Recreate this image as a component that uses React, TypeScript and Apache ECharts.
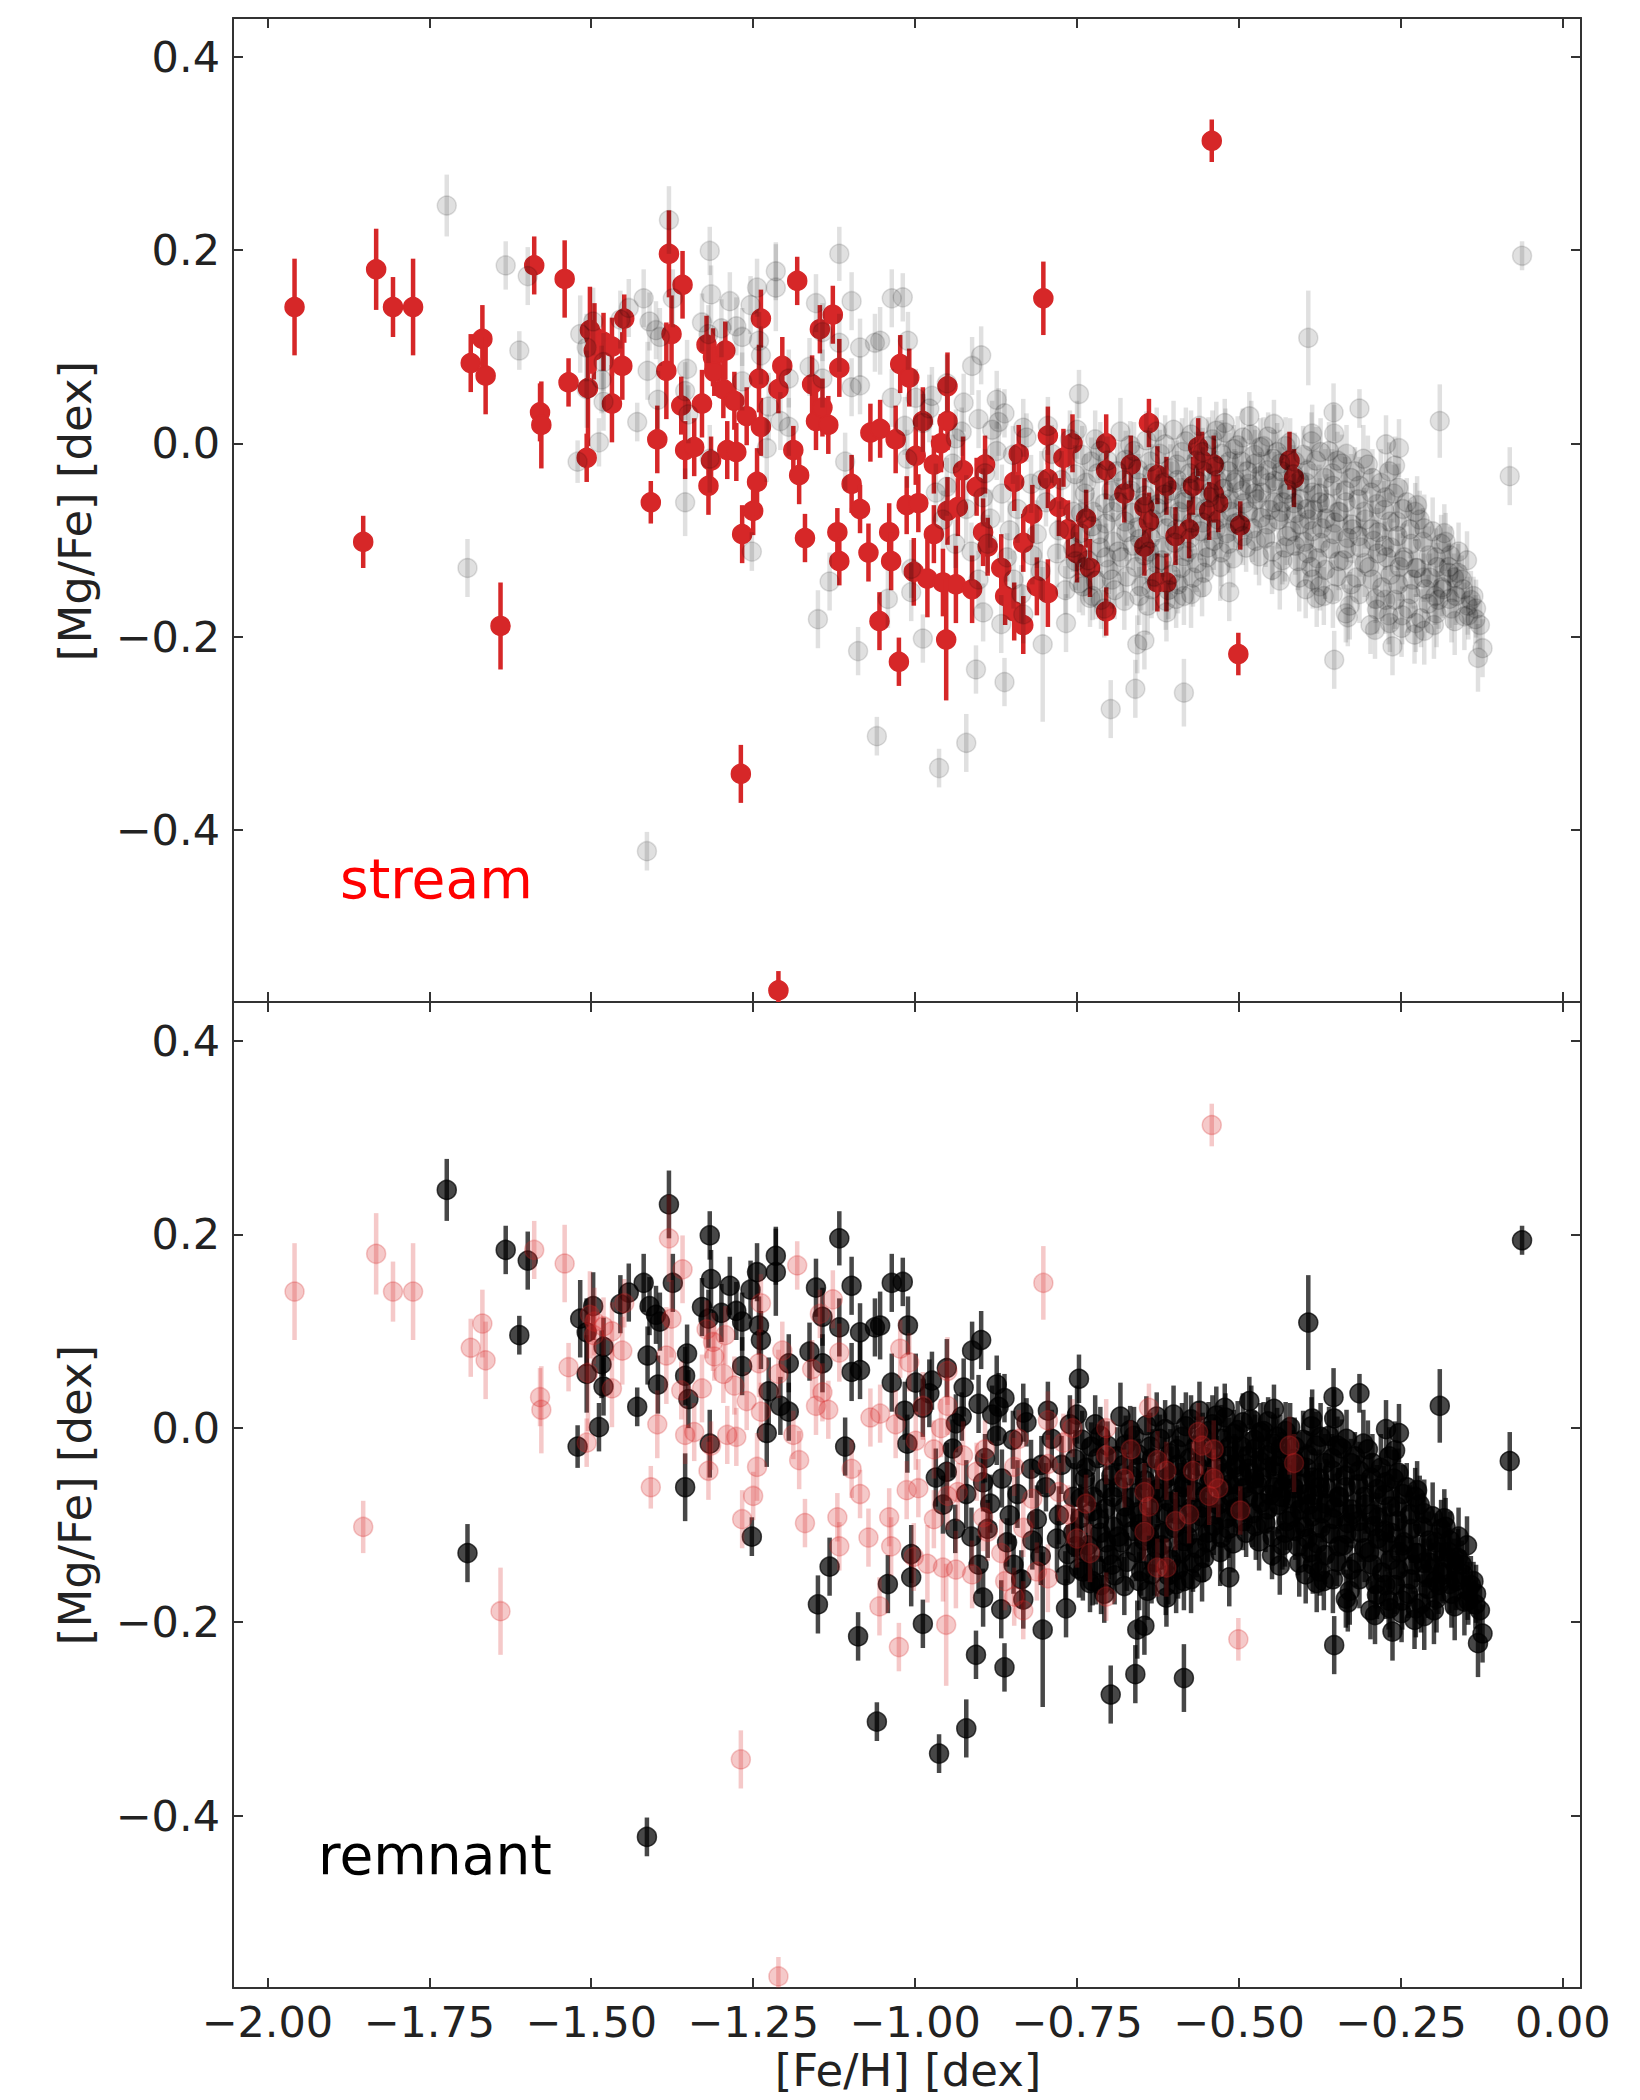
import React, { useEffect, useRef } from "react";
import * as echarts from "echarts";

const X_MIN = -2.053;
const X_MAX = 0.028;
const Y_MIN = -0.578;
const Y_MAX = 0.44;
const xTicks = [-2, -1.75, -1.5, -1.25, -1, -0.75, -0.5, -0.25, 0];
const yTicks = [-0.4, -0.2, 0, 0.2, 0.4];
const xTitle = "[Fe/H] [dex]";
const yTitle = "[Mg/Fe] [dex]";

// [Fe/H], [Mg/Fe], error
const stream: number[][] = [
  [-1.958, 0.141, 0.05], [-1.832, 0.18, 0.042], [-1.806, 0.141, 0.031], [-1.775, 0.141, 0.05],
  [-1.852, -0.102, 0.027], [-1.686, 0.083, 0.03], [-1.668, 0.108, 0.035], [-1.663, 0.07, 0.04],
  [-1.64, -0.189, 0.045], [-1.588, 0.184, 0.03], [-1.541, 0.17, 0.04], [-1.579, 0.032, 0.03],
  [-1.577, 0.019, 0.045], [-1.535, 0.063, 0.025], [-1.507, -0.015, 0.025], [-1.502, 0.117, 0.045],
  [-1.495, 0.11, 0.035], [-1.481, 0.105, 0.03], [-1.468, 0.1, 0.03], [-1.505, 0.057, 0.06],
  [-1.468, 0.041, 0.04], [-1.452, 0.08, 0.035], [-1.449, 0.129, 0.025], [-1.408, -0.061, 0.022],
  [-1.398, 0.004, 0.035], [-1.38, 0.196, 0.045], [-1.376, 0.113, 0.04], [-1.384, 0.075, 0.05],
  [-1.359, 0.164, 0.035], [-1.361, 0.039, 0.03], [-1.355, -0.007, 0.03], [-1.341, -0.004, 0.03],
  [-1.329, 0.041, 0.035], [-1.322, 0.102, 0.03], [-1.312, 0.089, 0.03], [-1.315, -0.018, 0.025],
  [-1.319, -0.044, 0.03], [-1.31, 0.074, 0.025], [-1.296, 0.056, 0.03], [-1.279, 0.044, 0.03],
  [-1.29, -0.007, 0.03], [-1.276, -0.009, 0.03], [-1.267, -0.094, 0.03], [-1.25, -0.07, 0.025],
  [-1.26, 0.028, 0.03], [-1.244, -0.04, 0.035], [-1.238, 0.017, 0.03], [-1.238, 0.129, 0.03],
  [-1.241, 0.067, 0.035], [-1.205, 0.08, 0.03], [-1.211, 0.056, 0.025], [-1.182, 0.168, 0.025],
  [-1.188, -0.007, 0.025], [-1.179, -0.033, 0.03], [-1.17, -0.098, 0.025], [-1.159, 0.061, 0.03],
  [-1.153, 0.023, 0.03], [-1.147, 0.118, 0.025], [-1.127, 0.133, 0.03], [-1.117, 0.078, 0.03],
  [-1.12, -0.092, 0.025], [-1.117, -0.122, 0.025], [-1.098, -0.042, 0.03], [-1.085, -0.068, 0.025],
  [-1.072, -0.113, 0.03], [-1.069, 0.011, 0.03], [-1.055, -0.184, 0.03], [-1.025, -0.226, 0.025],
  [-1.269, -0.342, 0.03], [-1.211, -0.566, 0.02], [-1.143, 0.037, 0.03], [-1.134, 0.019, 0.03],
  [-1.293, 0.096, 0.03], [-1.496, 0.096, 0.03],
  [-0.542, 0.313, 0.022], [-0.802, 0.15, 0.038], [-1.023, 0.082, 0.03], [-1.009, 0.068, 0.03],
  [-0.95, 0.059, 0.035], [-0.988, 0.023, 0.035], [-0.95, 0.023, 0.03], [-1.03, 0.004, 0.035],
  [-1.054, 0.015, 0.03], [-0.999, -0.013, 0.03], [-0.971, -0.022, 0.03], [-0.926, -0.028, 0.035],
  [-0.892, -0.022, 0.03], [-1.013, -0.064, 0.03], [-0.995, -0.062, 0.03], [-0.95, -0.07, 0.035],
  [-0.934, -0.066, 0.03], [-1.04, -0.092, 0.03], [-0.971, -0.094, 0.03], [-0.895, -0.092, 0.035],
  [-1.037, -0.122, 0.03], [-1.002, -0.133, 0.035], [-0.981, -0.14, 0.04], [-0.957, -0.144, 0.035],
  [-0.937, -0.146, 0.04], [-0.912, -0.151, 0.035], [-0.888, -0.107, 0.03], [-0.867, -0.129, 0.035],
  [-0.861, -0.158, 0.03], [-0.847, -0.174, 0.03], [-0.833, -0.188, 0.03], [-0.952, -0.203, 0.063],
  [-0.84, -0.011, 0.03], [-0.847, -0.04, 0.03], [-0.819, -0.073, 0.03], [-0.833, -0.103, 0.03],
  [-0.812, -0.148, 0.03], [-0.795, -0.155, 0.035], [-0.795, 0.008, 0.03], [-0.795, -0.037, 0.03],
  [-0.771, -0.015, 0.03], [-0.757, 0.0, 0.03], [-0.778, -0.066, 0.03], [-0.764, -0.089, 0.03],
  [-0.736, -0.078, 0.03], [-0.73, -0.129, 0.03], [-0.75, -0.114, 0.03], [-0.705, 0.0, 0.03],
  [-0.705, -0.028, 0.03], [-0.705, -0.174, 0.025], [-0.667, -0.022, 0.03], [-0.677, -0.052, 0.03],
  [-0.639, 0.021, 0.025], [-0.626, -0.033, 0.03], [-0.612, -0.044, 0.03], [-0.646, -0.066, 0.03],
  [-0.639, -0.081, 0.03], [-0.646, -0.107, 0.03], [-0.626, -0.144, 0.03], [-0.612, -0.144, 0.03],
  [-0.598, -0.096, 0.03], [-0.577, -0.089, 0.03], [-0.563, -0.004, 0.03], [-0.557, -0.018, 0.03],
  [-0.539, -0.022, 0.03], [-0.539, -0.052, 0.03], [-0.571, -0.044, 0.03], [-0.532, -0.062, 0.03],
  [-0.546, -0.07, 0.03], [-0.498, -0.085, 0.025], [-0.501, -0.218, 0.022], [-0.422, -0.018, 0.03],
  [-0.415, -0.036, 0.03], [-0.96, 0.0, 0.03], [-0.905, -0.045, 0.03],
];

const remnantScattered: number[][] = [
  [-1.723, 0.246, 0.032], [-1.632, 0.184, 0.025], [-1.598, 0.173, 0.03], [-1.611, 0.096, 0.02],
  [-1.691, -0.129, 0.03], [-1.38, 0.231, 0.035], [-1.317, 0.199, 0.025], [-1.117, 0.196, 0.028],
  [-1.215, 0.178, 0.03], [-1.215, 0.161, 0.045], [-1.244, 0.161, 0.03], [-1.374, 0.15, 0.03],
  [-1.419, 0.15, 0.03], [-1.315, 0.154, 0.03], [-1.286, 0.147, 0.03], [-1.254, 0.143, 0.03],
  [-1.153, 0.145, 0.03], [-1.098, 0.147, 0.03], [-1.442, 0.14, 0.03], [-1.455, 0.128, 0.03],
  [-1.497, 0.126, 0.035], [-1.517, 0.113, 0.04], [-1.507, 0.099, 0.035], [-1.41, 0.126, 0.03],
  [-1.4, 0.117, 0.03], [-1.394, 0.11, 0.03], [-1.329, 0.125, 0.03], [-1.319, 0.113, 0.03],
  [-1.299, 0.119, 0.03], [-1.276, 0.121, 0.03], [-1.267, 0.11, 0.03], [-1.241, 0.106, 0.03],
  [-1.238, 0.091, 0.03], [-1.143, 0.115, 0.03], [-1.117, 0.104, 0.03], [-1.085, 0.099, 0.03],
  [-1.062, 0.104, 0.03], [-1.036, 0.15, 0.03], [-1.481, 0.084, 0.03], [-1.484, 0.066, 0.035],
  [-1.507, 0.056, 0.04], [-1.481, 0.043, 0.03], [-1.413, 0.075, 0.03], [-1.352, 0.077, 0.03],
  [-1.355, 0.054, 0.03], [-1.397, 0.045, 0.03], [-1.35, 0.03, 0.03], [-1.267, 0.064, 0.03],
  [-1.226, 0.038, 0.035], [-1.195, 0.067, 0.03], [-1.208, 0.023, 0.03], [-1.195, 0.017, 0.03],
  [-1.163, 0.079, 0.03], [-1.143, 0.067, 0.03], [-1.098, 0.058, 0.03], [-1.085, 0.06, 0.03],
  [-1.036, 0.047, 0.03], [-1.429, 0.022, 0.02], [-1.488, 0.001, 0.025], [-1.521, -0.019, 0.022],
  [-1.317, -0.016, 0.035], [-1.355, -0.061, 0.035], [-1.229, -0.005, 0.035], [-1.108, -0.019, 0.03],
  [-1.252, -0.112, 0.02], [-1.132, -0.143, 0.03], [-1.15, -0.182, 0.03], [-1.088, -0.215, 0.025],
  [-1.042, -0.161, 0.03],
  [-0.063, 0.194, 0.015], [-0.393, 0.109, 0.049], [-0.082, -0.034, 0.03], [-0.19, 0.023, 0.038],
  [-0.314, 0.036, 0.02], [-0.354, 0.032, 0.03], [-0.484, 0.028, 0.025], [-0.446, 0.02, 0.025],
  [-0.522, 0.021, 0.025], [-1.019, 0.151, 0.025], [-1.054, 0.106, 0.035], [-1.011, 0.106, 0.03],
  [-0.898, 0.091, 0.03], [-0.912, 0.08, 0.03], [-0.999, 0.047, 0.03], [-0.974, 0.049, 0.03],
  [-0.951, 0.062, 0.03], [-0.874, 0.045, 0.03], [-0.747, 0.051, 0.025], [-1.016, 0.018, 0.03],
  [-0.988, 0.021, 0.03], [-0.937, 0.005, 0.03], [-0.902, 0.025, 0.03], [-0.881, 0.014, 0.03],
  [-0.833, 0.016, 0.03], [-0.795, 0.018, 0.03], [-0.75, 0.014, 0.03], [-1.012, -0.016, 0.03],
  [-0.951, -0.045, 0.03], [-0.957, -0.079, 0.03], [-0.874, -0.008, 0.03], [-0.895, -0.056, 0.03],
  [-0.888, -0.104, 0.03], [-1.006, -0.13, 0.03], [-1.006, -0.154, 0.03], [-0.895, -0.175, 0.03],
  [-0.867, -0.187, 0.03], [-0.988, -0.202, 0.025], [-0.906, -0.234, 0.025], [-0.862, -0.247, 0.025],
  [-0.803, -0.208, 0.08], [-0.848, -0.141, 0.03], [-0.833, -0.177, 0.03], [-0.767, -0.186, 0.03],
  [-0.708, -0.171, 0.03], [-0.657, -0.208, 0.03], [-0.646, -0.204, 0.03], [-0.66, -0.254, 0.03],
  [-0.698, -0.275, 0.03], [-0.585, -0.258, 0.035], [-0.585, -0.158, 0.03], [-0.515, -0.154, 0.03],
  [-0.612, -0.175, 0.03], [-0.353, -0.224, 0.03], [-0.38, -0.16, 0.03], [-0.332, -0.18, 0.03],
  [-0.29, -0.193, 0.03], [-0.263, -0.21, 0.03], [-0.249, -0.191, 0.03], [-0.135, -0.182, 0.025],
  [-0.124, -0.212, 0.03], [-0.131, -0.222, 0.035], [-0.138, -0.158, 0.02], [-0.176, -0.134, 0.03],
  [-0.183, -0.093, 0.03], [-0.162, -0.134, 0.03], [-0.197, -0.158, 0.03], [-0.225, -0.064, 0.03],
  [-0.273, -0.001, 0.03], [-0.253, -0.005, 0.03], [-0.259, -0.023, 0.03], [-0.353, 0.01, 0.03],
  [-0.387, 0.01, 0.03], [-1.059, -0.303, 0.02], [-0.963, -0.336, 0.02], [-0.921, -0.31, 0.03],
  [-1.414, -0.422, 0.02], [-0.854, -0.09, 0.03], [-0.819, -0.116, 0.03], [-0.778, -0.09, 0.03],
  [-0.764, -0.13, 0.03], [-0.805, -0.038, 0.03], [-0.747, -0.145, 0.03], [-0.73, -0.16, 0.03],
];

const remnantEdge: number[][] = [
  [-0.942, -0.021, 0.03], [-0.928, 0.012, 0.025], [-0.921, -0.068, 0.035], [-0.913, -0.112, 0.03],
  [-0.902, -0.141, 0.03], [-0.892, -0.031, 0.025], [-0.884, -0.078, 0.03], [-0.871, 0.022, 0.035],
  [-0.866, -0.052, 0.03], [-0.858, -0.118, 0.025], [-0.849, -0.012, 0.03], [-0.842, -0.068, 0.035],
  [-0.836, -0.156, 0.03], [-0.828, 0.006, 0.025], [-0.821, -0.042, 0.03], [-0.812, -0.094, 0.035],
  [-0.806, -0.132, 0.03], [-0.798, -0.061, 0.025], [-0.789, -0.011, 0.03], [-0.781, -0.114, 0.035],
  [-0.774, -0.038, 0.03], [-0.768, -0.152, 0.025], [-0.761, 0.004, 0.03], [-0.756, -0.071, 0.035],
  [-0.752, -0.122, 0.03], [-0.938, -0.104, 0.025], [-0.968, -0.051, 0.03], [-0.978, 0.036, 0.035],
  [-0.925, 0.042, 0.03], [-0.862, 0.031, 0.025],
];

const remnantCore: number[][] = [
  [-0.742, -0.012, 0.03], [-0.738, -0.052, 0.025], [-0.745, -0.093, 0.035], [-0.733, -0.121, 0.03],
  [-0.722, 0.004, 0.03], [-0.718, -0.031, 0.035], [-0.725, -0.071, 0.025], [-0.714, -0.108, 0.03], [-0.721, -0.142, 0.04],
  [-0.703, -0.018, 0.025], [-0.697, -0.049, 0.03], [-0.706, -0.083, 0.035], [-0.694, -0.102, 0.03], [-0.701, -0.131, 0.025], [-0.692, -0.152, 0.03],
  [-0.683, 0.012, 0.035], [-0.678, -0.038, 0.03], [-0.686, -0.061, 0.025], [-0.674, -0.092, 0.03], [-0.681, -0.118, 0.035], [-0.677, -0.163, 0.03],
  [-0.662, -0.008, 0.03], [-0.656, -0.027, 0.025], [-0.665, -0.072, 0.03], [-0.653, -0.099, 0.04], [-0.659, -0.128, 0.03], [-0.651, -0.148, 0.025],
  [-0.643, 0.003, 0.03], [-0.637, -0.019, 0.035], [-0.645, -0.054, 0.03], [-0.633, -0.079, 0.025], [-0.639, -0.112, 0.03], [-0.631, -0.138, 0.035], [-0.641, -0.168, 0.03],
  [-0.622, -0.011, 0.025], [-0.616, -0.041, 0.03], [-0.625, -0.063, 0.035], [-0.612, -0.088, 0.03], [-0.619, -0.121, 0.025], [-0.609, -0.152, 0.03],
  [-0.601, 0.014, 0.03], [-0.596, -0.022, 0.025], [-0.604, -0.049, 0.03], [-0.592, -0.071, 0.035], [-0.599, -0.103, 0.03], [-0.589, -0.129, 0.025], [-0.597, -0.161, 0.03],
  [-0.582, 0.002, 0.035], [-0.576, -0.031, 0.03], [-0.585, -0.058, 0.025], [-0.573, -0.082, 0.03], [-0.579, -0.112, 0.035], [-0.571, -0.139, 0.03],
  [-0.561, 0.018, 0.03], [-0.556, -0.009, 0.025], [-0.564, -0.039, 0.03], [-0.552, -0.068, 0.035], [-0.559, -0.091, 0.03], [-0.549, -0.118, 0.025], [-0.557, -0.149, 0.03],
  [-0.541, 0.004, 0.03], [-0.536, -0.024, 0.035], [-0.545, -0.051, 0.03], [-0.532, -0.079, 0.025], [-0.539, -0.101, 0.03], [-0.529, -0.128, 0.035],
  [-0.521, 0.011, 0.025], [-0.516, -0.029, 0.03], [-0.524, -0.047, 0.035], [-0.512, -0.071, 0.03], [-0.519, -0.093, 0.025], [-0.509, -0.119, 0.03],
  [-0.502, -0.002, 0.03], [-0.496, -0.019, 0.025], [-0.505, -0.038, 0.03], [-0.492, -0.062, 0.035], [-0.499, -0.081, 0.03], [-0.489, -0.108, 0.025],
  [-0.481, 0.009, 0.035], [-0.476, -0.012, 0.03], [-0.485, -0.042, 0.025], [-0.472, -0.058, 0.03], [-0.479, -0.088, 0.035], [-0.469, -0.117, 0.03],
  [-0.462, -0.003, 0.03], [-0.456, -0.028, 0.025], [-0.465, -0.051, 0.03], [-0.452, -0.069, 0.035], [-0.459, -0.098, 0.03], [-0.449, -0.131, 0.025],
  [-0.441, -0.009, 0.03], [-0.436, -0.021, 0.035], [-0.445, -0.039, 0.03], [-0.432, -0.061, 0.025], [-0.439, -0.079, 0.03], [-0.429, -0.108, 0.035], [-0.437, -0.142, 0.03],
  [-0.421, 0.001, 0.025], [-0.416, -0.032, 0.03], [-0.425, -0.048, 0.035], [-0.412, -0.072, 0.03], [-0.419, -0.091, 0.025], [-0.409, -0.122, 0.03],
  [-0.401, -0.012, 0.03], [-0.396, -0.041, 0.025], [-0.405, -0.058, 0.03], [-0.392, -0.079, 0.035], [-0.399, -0.102, 0.03], [-0.389, -0.128, 0.025], [-0.397, -0.151, 0.03],
  [-0.381, -0.018, 0.035], [-0.376, -0.052, 0.03], [-0.385, -0.069, 0.025], [-0.372, -0.088, 0.03], [-0.379, -0.119, 0.035], [-0.369, -0.158, 0.03],
  [-0.361, -0.008, 0.03], [-0.356, -0.031, 0.025], [-0.365, -0.062, 0.03], [-0.352, -0.082, 0.035], [-0.359, -0.109, 0.03], [-0.349, -0.138, 0.025],
  [-0.341, -0.021, 0.03], [-0.336, -0.049, 0.035], [-0.345, -0.071, 0.03], [-0.332, -0.098, 0.025], [-0.339, -0.121, 0.03], [-0.329, -0.168, 0.035],
  [-0.321, -0.029, 0.025], [-0.316, -0.058, 0.03], [-0.325, -0.089, 0.035], [-0.312, -0.108, 0.03], [-0.319, -0.139, 0.025],
  [-0.301, -0.022, 0.03], [-0.296, -0.051, 0.025], [-0.305, -0.079, 0.03], [-0.292, -0.101, 0.035], [-0.299, -0.128, 0.03], [-0.289, -0.161, 0.025], [-0.297, -0.188, 0.03],
  [-0.281, -0.041, 0.035], [-0.276, -0.069, 0.03], [-0.285, -0.092, 0.025], [-0.272, -0.118, 0.03], [-0.279, -0.149, 0.035], [-0.269, -0.178, 0.03],
  [-0.261, -0.052, 0.03], [-0.256, -0.081, 0.025], [-0.265, -0.108, 0.03], [-0.252, -0.128, 0.035], [-0.259, -0.162, 0.03],
  [-0.241, -0.061, 0.025], [-0.236, -0.089, 0.03], [-0.245, -0.118, 0.035], [-0.232, -0.141, 0.03], [-0.239, -0.171, 0.025], [-0.229, -0.198, 0.03],
  [-0.221, -0.079, 0.03], [-0.216, -0.102, 0.035], [-0.225, -0.129, 0.03], [-0.212, -0.151, 0.025], [-0.219, -0.181, 0.03],
  [-0.201, -0.091, 0.035], [-0.196, -0.118, 0.03], [-0.205, -0.139, 0.025], [-0.192, -0.162, 0.03], [-0.199, -0.188, 0.035],
  [-0.181, -0.102, 0.03], [-0.176, -0.128, 0.025], [-0.185, -0.151, 0.03], [-0.172, -0.171, 0.035],
  [-0.161, -0.112, 0.03], [-0.156, -0.141, 0.025], [-0.165, -0.158, 0.03], [-0.152, -0.179, 0.035],
  [-0.142, -0.162, 0.03], [-0.146, -0.178, 0.025],
];

const remnantCoreB: number[][] = [
  [-0.753, -0.032, 0.03], [-0.744, -0.072, 0.035], [-0.756, -0.108, 0.025], [-0.741, -0.148, 0.03],
  [-0.728, -0.019, 0.025], [-0.736, -0.041, 0.03], [-0.727, -0.086, 0.035], [-0.737, -0.128, 0.03], [-0.726, -0.158, 0.025],
  [-0.714, -0.008, 0.03], [-0.707, -0.062, 0.025], [-0.716, -0.094, 0.03], [-0.705, -0.118, 0.035], [-0.713, -0.162, 0.03],
  [-0.688, -0.029, 0.03], [-0.695, -0.071, 0.035], [-0.686, -0.112, 0.025], [-0.696, -0.141, 0.03],
  [-0.668, -0.002, 0.025], [-0.675, -0.017, 0.03], [-0.667, -0.049, 0.035], [-0.676, -0.081, 0.03], [-0.664, -0.106, 0.025], [-0.673, -0.138, 0.03],
  [-0.655, -0.041, 0.03], [-0.647, -0.062, 0.025], [-0.657, -0.087, 0.035], [-0.646, -0.116, 0.03], [-0.654, -0.158, 0.03],
  [-0.627, 0.012, 0.025], [-0.634, -0.031, 0.03], [-0.626, -0.067, 0.035], [-0.636, -0.098, 0.03], [-0.627, -0.124, 0.025], [-0.635, -0.151, 0.03],
  [-0.614, -0.001, 0.03], [-0.606, -0.026, 0.025], [-0.615, -0.053, 0.03], [-0.607, -0.076, 0.035], [-0.617, -0.108, 0.03], [-0.605, -0.136, 0.025], [-0.613, -0.163, 0.03],
  [-0.588, -0.009, 0.035], [-0.595, -0.038, 0.03], [-0.586, -0.061, 0.025], [-0.596, -0.089, 0.03], [-0.585, -0.117, 0.035], [-0.594, -0.146, 0.03],
  [-0.574, 0.009, 0.025], [-0.566, -0.018, 0.03], [-0.576, -0.047, 0.035], [-0.567, -0.066, 0.03], [-0.575, -0.098, 0.025], [-0.565, -0.124, 0.03], [-0.574, -0.156, 0.035],
  [-0.547, -0.003, 0.03], [-0.555, -0.029, 0.025], [-0.546, -0.056, 0.03], [-0.556, -0.082, 0.035], [-0.548, -0.108, 0.03], [-0.554, -0.134, 0.025],
  [-0.535, 0.013, 0.03], [-0.527, -0.011, 0.035], [-0.534, -0.038, 0.03], [-0.526, -0.062, 0.025], [-0.536, -0.089, 0.03], [-0.527, -0.113, 0.035],
  [-0.508, -0.006, 0.025], [-0.515, -0.019, 0.03], [-0.507, -0.041, 0.035], [-0.514, -0.058, 0.03], [-0.506, -0.083, 0.025], [-0.516, -0.104, 0.03],
  [-0.494, 0.006, 0.03], [-0.487, -0.029, 0.025], [-0.495, -0.049, 0.03], [-0.486, -0.071, 0.035], [-0.494, -0.096, 0.03],
  [-0.467, -0.004, 0.03], [-0.475, -0.021, 0.035], [-0.468, -0.034, 0.025], [-0.476, -0.052, 0.03], [-0.466, -0.077, 0.03], [-0.474, -0.101, 0.035],
  [-0.455, 0.007, 0.025], [-0.447, -0.016, 0.03], [-0.454, -0.041, 0.035], [-0.446, -0.061, 0.03], [-0.456, -0.084, 0.025], [-0.448, -0.112, 0.03],
  [-0.428, -0.003, 0.03], [-0.434, -0.029, 0.025], [-0.427, -0.052, 0.03], [-0.435, -0.071, 0.035], [-0.426, -0.096, 0.03], [-0.433, -0.121, 0.025],
  [-0.414, -0.019, 0.03], [-0.407, -0.039, 0.035], [-0.415, -0.062, 0.03], [-0.406, -0.084, 0.025], [-0.413, -0.106, 0.03], [-0.407, -0.139, 0.035],
  [-0.388, 0.002, 0.03], [-0.394, -0.028, 0.025], [-0.386, -0.051, 0.03], [-0.395, -0.068, 0.035], [-0.387, -0.091, 0.03], [-0.394, -0.114, 0.025], [-0.386, -0.141, 0.03],
  [-0.374, -0.009, 0.035], [-0.367, -0.036, 0.03], [-0.375, -0.061, 0.025], [-0.366, -0.078, 0.03], [-0.374, -0.103, 0.035], [-0.367, -0.131, 0.03], [-0.375, -0.148, 0.025],
  [-0.348, -0.018, 0.03], [-0.355, -0.044, 0.035], [-0.347, -0.071, 0.03], [-0.354, -0.094, 0.025], [-0.346, -0.122, 0.03], [-0.355, -0.156, 0.035],
  [-0.334, -0.011, 0.03], [-0.327, -0.036, 0.025], [-0.335, -0.061, 0.03], [-0.326, -0.084, 0.035], [-0.334, -0.109, 0.03], [-0.327, -0.146, 0.025], [-0.335, -0.176, 0.03],
  [-0.308, -0.016, 0.035], [-0.314, -0.044, 0.03], [-0.307, -0.071, 0.025], [-0.315, -0.096, 0.03], [-0.306, -0.124, 0.035], [-0.314, -0.156, 0.03],
  [-0.294, -0.036, 0.03], [-0.287, -0.063, 0.025], [-0.295, -0.089, 0.03], [-0.286, -0.114, 0.035], [-0.294, -0.141, 0.03], [-0.287, -0.172, 0.025],
  [-0.268, -0.029, 0.03], [-0.274, -0.056, 0.035], [-0.267, -0.081, 0.03], [-0.275, -0.106, 0.025], [-0.266, -0.136, 0.03], [-0.274, -0.162, 0.035], [-0.267, -0.186, 0.03],
  [-0.254, -0.046, 0.025], [-0.247, -0.068, 0.03], [-0.255, -0.096, 0.035], [-0.247, -0.121, 0.03], [-0.254, -0.146, 0.025], [-0.248, -0.178, 0.03],
  [-0.228, -0.071, 0.03], [-0.234, -0.104, 0.035], [-0.227, -0.129, 0.03], [-0.235, -0.156, 0.025], [-0.227, -0.186, 0.03],
  [-0.214, -0.088, 0.035], [-0.207, -0.116, 0.03], [-0.215, -0.139, 0.025], [-0.208, -0.166, 0.03], [-0.214, -0.194, 0.035],
  [-0.188, -0.104, 0.03], [-0.194, -0.128, 0.025], [-0.187, -0.149, 0.03], [-0.195, -0.176, 0.035],
  [-0.174, -0.116, 0.03], [-0.168, -0.139, 0.025], [-0.175, -0.161, 0.03], [-0.167, -0.184, 0.035],
  [-0.148, -0.121, 0.03], [-0.154, -0.151, 0.025], [-0.147, -0.168, 0.03],
  [-0.134, -0.171, 0.03], [-0.128, -0.188, 0.025],
];

const remnant = remnantScattered.concat(remnantEdge, remnantCore, remnantCoreB);

const FONT = "DejaVu Sans";
const AXIS_COLOR = "#333";
const TICK_FONT = 43;
const TITLE_FONT = 45;
const TAG_FONT = 55;

function fmt(v: number, d: number) {
  const s = Math.abs(v).toFixed(d);
  return (v < -1e-9 ? "\u2212" : "") + s;
}

function errorSeries(data: number[][], xi: number, yi: number, color: string, z: number) {
  return {
    type: "custom",
    xAxisIndex: xi,
    yAxisIndex: yi,
    z,
    clip: true,
    silent: true,
    data,
    encode: { x: 0, y: 1 },
    renderItem: (_p: any, api: any) => {
      const x = api.value(0);
      const y = api.value(1);
      const e = api.value(2);
      const c = api.coord([x, y]);
      const t = api.coord([x, y + e]);
      const b = api.coord([x, y - e]);
      return {
        type: "group",
        children: [
          {
            type: "line",
            shape: { x1: c[0], y1: t[1], x2: c[0], y2: b[1] },
            style: { stroke: color, lineWidth: 4.5 },
          },
          {
            type: "circle",
            shape: { cx: c[0], cy: c[1], r: 9.5 },
            style: { fill: color, stroke: color, lineWidth: 1.5 },
          },
        ],
      };
    },
  };
}

function xAxis(grid: number, pos: "top" | "bottom", labels: boolean) {
  return {
    type: "value",
    gridIndex: grid,
    position: pos,
    min: X_MIN,
    max: X_MAX,
    axisLine: { show: true, onZero: false, lineStyle: { color: AXIS_COLOR, width: 2 } },
    axisTick: { show: true, inside: true, length: 10, customValues: xTicks, lineStyle: { color: AXIS_COLOR, width: 2 } },
    axisLabel: {
      show: labels,
      customValues: xTicks,
      margin: 12,
      fontFamily: FONT,
      fontSize: TICK_FONT,
      color: "#222",
      formatter: (v: number) => fmt(v, 2),
    },
    splitLine: { show: false },
  };
}

function yAxis(grid: number, pos: "left" | "right", labels: boolean) {
  return {
    type: "value",
    gridIndex: grid,
    position: pos,
    min: Y_MIN,
    max: Y_MAX,
    axisLine: { show: true, onZero: false, lineStyle: { color: AXIS_COLOR, width: 2 } },
    axisTick: { show: true, inside: true, length: 10, customValues: yTicks, lineStyle: { color: AXIS_COLOR, width: 2 } },
    axisLabel: {
      show: labels,
      customValues: yTicks,
      margin: 13,
      fontFamily: FONT,
      fontSize: TICK_FONT,
      color: "#222",
      formatter: (v: number) => fmt(v, 1),
    },
    splitLine: { show: false },
  };
}

export default function App() {
  const ref = useRef<HTMLDivElement>(null);
  useEffect(() => {
    document.body.style.margin = "0";
    document.body.style.overflow = "hidden";
    if (!ref.current) return;
    const chart = echarts.init(ref.current, null, { renderer: "svg" });
    const RED = "#d62728";
    chart.setOption({
      animation: false,
      backgroundColor: "#ffffff",
      grid: [
        { left: 233, top: 18, width: 1348, height: 984 },
        { left: 233, top: 1002, width: 1348, height: 986 },
      ],
      xAxis: [
        xAxis(0, "bottom", false),
        xAxis(0, "top", false),
        xAxis(1, "bottom", true),
        xAxis(1, "top", false),
      ],
      yAxis: [
        yAxis(0, "left", true),
        yAxis(0, "right", false),
        yAxis(1, "left", true),
        yAxis(1, "right", false),
      ],
      series: [
        errorSeries(stream, 0, 0, RED, 2),
        errorSeries(remnant, 0, 0, "rgba(0,0,0,0.12)", 3),
        errorSeries(remnant, 2, 2, "rgba(0,0,0,0.72)", 2),
        errorSeries(stream, 2, 2, "rgba(214,39,40,0.25)", 3),
      ],
      graphic: [
        {
          type: "text",
          x: 340,
          y: 879,
          style: { text: "stream", fill: "red", fontFamily: FONT, fontSize: TAG_FONT, align: "left", verticalAlign: "middle" },
          z: 10,
        },
        {
          type: "text",
          x: 318,
          y: 1855,
          style: { text: "remnant", fill: "#000", fontFamily: FONT, fontSize: TAG_FONT, align: "left", verticalAlign: "middle" },
          z: 10,
        },
        {
          type: "text",
          x: 75,
          y: 511,
          rotation: Math.PI / 2,
          style: { text: yTitle, fill: "#222", fontFamily: FONT, fontSize: TITLE_FONT, align: "center", verticalAlign: "middle" },
        },
        {
          type: "text",
          x: 75,
          y: 1495,
          rotation: Math.PI / 2,
          style: { text: yTitle, fill: "#222", fontFamily: FONT, fontSize: TITLE_FONT, align: "center", verticalAlign: "middle" },
        },
        {
          type: "text",
          x: 908,
          y: 2070,
          style: { text: xTitle, fill: "#222", fontFamily: FONT, fontSize: TITLE_FONT, align: "center", verticalAlign: "middle" },
        },
      ],
    });
    return () => chart.dispose();
  }, []);
  return <div ref={ref} style={{ width: 1640, height: 2100 }} />;
}
